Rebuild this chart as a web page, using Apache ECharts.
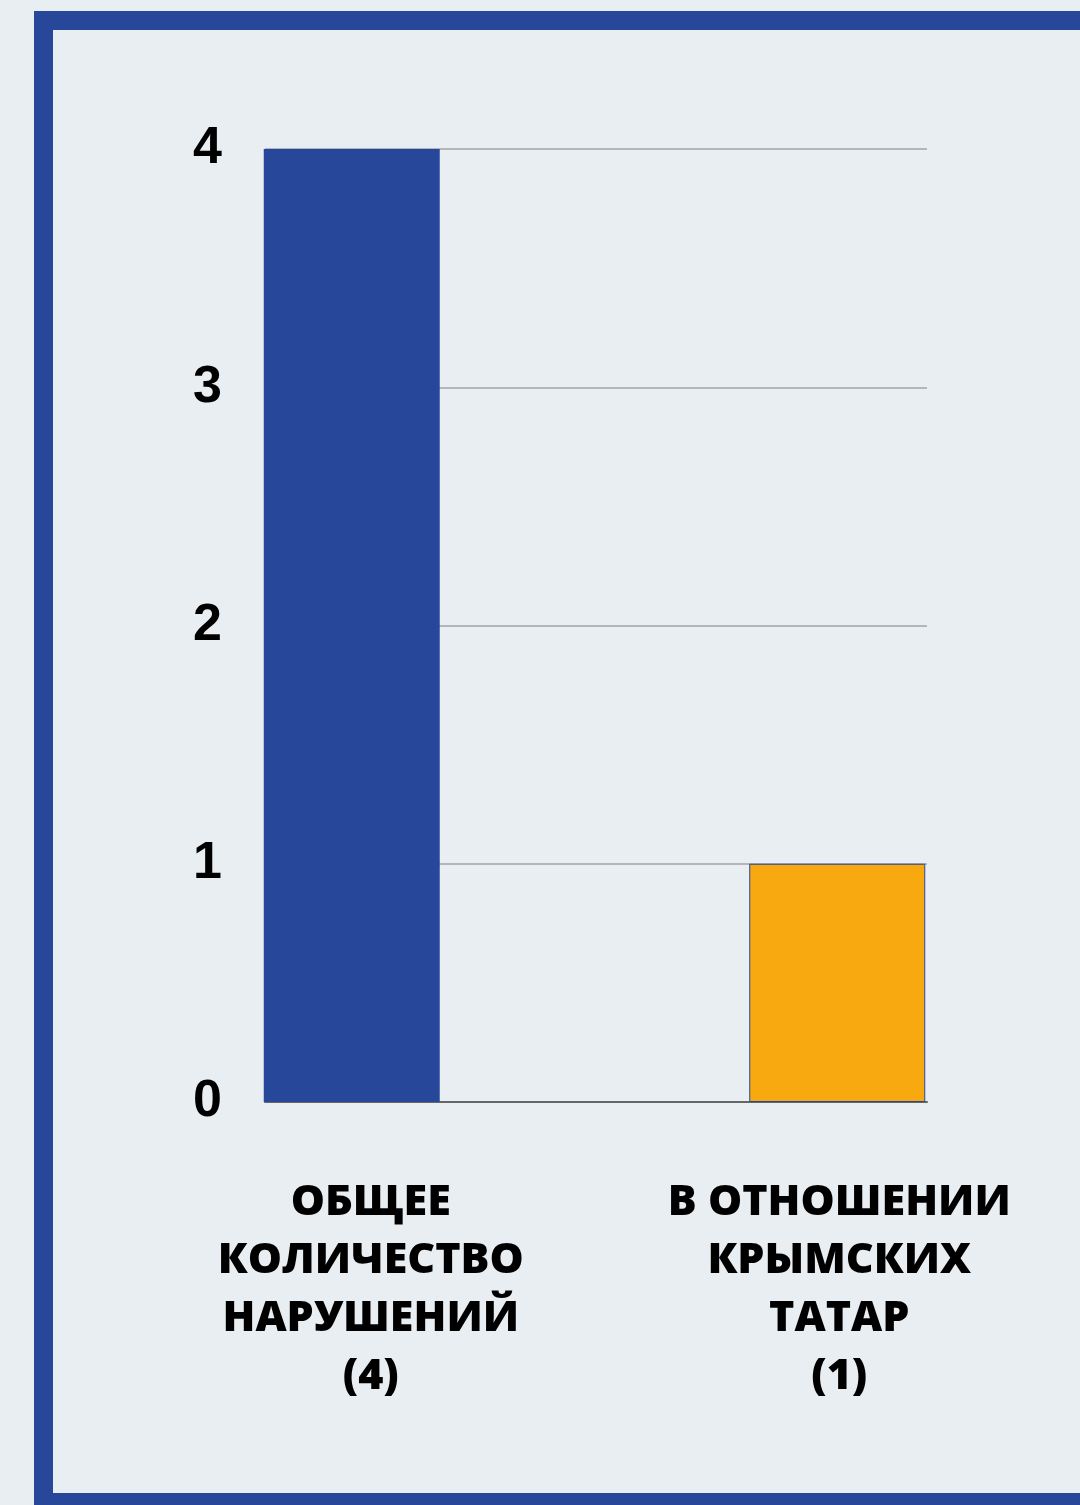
<!DOCTYPE html>
<html>
<head>
<meta charset="utf-8">
<script src="https://cdn.jsdelivr.net/npm/echarts@6/dist/echarts.min.js"></script>
<style>
html, body { margin: 0; padding: 0; background: #e9eef2; }
#chart { width: 1080px; height: 1505px; }
</style>
</head>
<body>
<div id="chart"></div>
<script>
// данные
var categories = ['ОБЩЕЕ\nКОЛИЧЕСТВО\nНАРУШЕНИЙ\n(4)', 'В ОТНОШЕНИИ\nКРЫМСКИХ\nТАТАР\n(1)'];
var values = [4, 1];
var barColors = ['#27479a', '#f8a90f'];
var yTicks = [0, 1, 2, 3, 4];

var blue = '#27479a';

var buildData = function () {
    var out = [];
    for (var i = 0; i < values.length; i++) {
        out.push({
            value: values[i],
            itemStyle: {
                color: barColors[i],
                borderColor: blue,
                borderWidth: i == 1 ? 1 : 0
            }
        });
    }
    return out;
};

var catData = [
    {value: categories[0], textStyle: {padding: [0, 0, 0, 38]}},
    {value: categories[1], textStyle: {padding: [0, 0, 0, 4]}}
];

var option = {
    animation: false,
    backgroundColor: '#e9eef2',
    graphic: [{
        type: 'rect',
        z: -10,
        shape: {x: 43.5, y: 20.5, width: 1120, height: 1482},
        style: {fill: 'none', stroke: blue, lineWidth: 19}
    }],
    grid: [
        {left: 109, top: 149, width: 974, height: 953},
        {left: 265, top: 149, width: 662, height: 953}
    ],
    xAxis: [
        {
            type: 'category',
            gridIndex: 0,
            data: catData,
            boundaryGap: true,
            axisLine: {show: false},
            axisTick: {show: false},
            splitLine: {show: false},
            axisLabel: {
                interval: 0,
                margin: 72,
                color: '#000',
                fontFamily: 'Open Sans',
                fontWeight: 800,
                fontSize: 43,
                lineHeight: 58,
                align: 'center'
            }
        },
        {
            type: 'value',
            gridIndex: 1,
            min: 0,
            max: 1,
            axisLine: {show: true, lineStyle: {color: '#666666', width: 2}},
            axisTick: {show: false},
            axisLabel: {show: false},
            splitLine: {show: false}
        }
    ],
    yAxis: [
        {
            type: 'value',
            gridIndex: 0,
            min: yTicks[0],
            max: yTicks[yTicks.length - 1],
            interval: 1,
            axisLine: {show: false},
            axisTick: {show: false},
            axisLabel: {show: false},
            splitLine: {show: false}
        },
        {
            type: 'value',
            gridIndex: 1,
            min: yTicks[0],
            max: yTicks[yTicks.length - 1],
            interval: 1,
            axisLine: {show: false},
            axisTick: {show: false},
            axisLabel: {
                margin: 43,
                color: '#000',
                fontFamily: 'Liberation Sans',
                fontWeight: 'bold',
                fontSize: 52
            },
            splitLine: {lineStyle: {color: '#b3b5b8', width: 2}}
        }
    ],
    series: [{
        type: 'bar',
        xAxisIndex: 0,
        yAxisIndex: 0,
        barWidth: 176,
        z: 5,
        data: buildData()
    }]
};

var chart = echarts.init(document.getElementById('chart'));
chart.setOption(option);
</script>
</body>
</html>
